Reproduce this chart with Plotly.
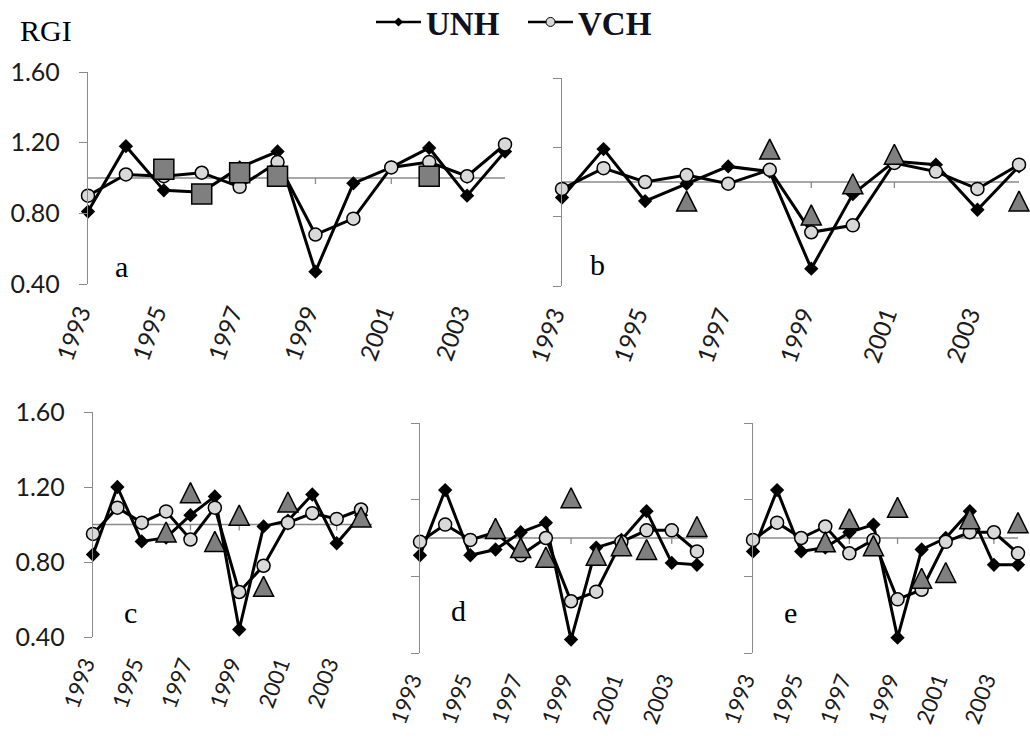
import plotly.graph_objects as go

# ---- data -------------------------------------------------------------
YEARS = list(range(1993, 2005))
TICK_YEARS = [1993, 1995, 1997, 1999, 2001, 2003]
TICK_TEXT = [str(y) for y in TICK_YEARS]
Y_TICKS = [0.40, 0.80, 1.20, 1.60]
Y_TICK_TEXT = ["0.40", "0.80", "1.20", "1.60"]
BASELINE = 1.0

UNH_A = [0.81, 1.18, 0.93, 0.92, 1.06, 1.15, 0.47, 0.97, 1.06, 1.17, 0.90, 1.15]
VCH_A = [0.90, 1.02, 1.01, 1.03, 0.95, 1.09, 0.68, 0.77, 1.06, 1.09, 1.01, 1.19]
SQR_A = [None, None, 1.05, 0.91, 1.03, 1.01, None, None, None, 1.01, None, None]

UNH_B = [0.91, 1.19, 0.89, 0.99, 1.09, 1.06, 0.50, 0.93, 1.12, 1.10, 0.84, 1.09]
VCH_B = [0.96, 1.08, 1.00, 1.04, 0.99, 1.07, 0.71, 0.75, 1.11, 1.06, 0.96, 1.10]
TRI_B = [None, None, None, 0.89, None, 1.19, 0.81, 0.99, 1.16, None, None, 0.89]

UNH_C = [0.84, 1.20, 0.91, 0.93, 1.05, 1.15, 0.44, 0.99, 1.02, 1.16, 0.90, 1.05]
VCH_C = [0.95, 1.09, 1.01, 1.07, 0.92, 1.09, 0.64, 0.78, 1.01, 1.06, 1.03, 1.08]
TRI_C = [None, None, None, 0.96, 1.17, 0.91, 1.05, 0.67, 1.12, None, None, 1.04]

UNH_D = [0.91, 1.25, 0.91, 0.94, 1.03, 1.08, 0.47, 0.95, 0.99, 1.14, 0.87, 0.86]
VCH_D = [0.98, 1.07, 0.99, 1.03, 0.91, 1.00, 0.67, 0.72, 0.98, 1.04, 1.04, 0.93]
TRI_D = [None, None, None, 1.05, 0.95, 0.90, 1.21, 0.91, 0.96, 0.94, None, 1.06]

UNH_E = [0.93, 1.25, 0.93, 0.95, 1.03, 1.07, 0.48, 0.94, 1.00, 1.14, 0.86, 0.86]
VCH_E = [0.99, 1.08, 1.00, 1.06, 0.92, 0.99, 0.68, 0.73, 0.98, 1.03, 1.03, 0.92]
TRI_E = [None, None, None, 0.98, 1.10, 0.96, 1.16, 0.79, 0.82, 1.10, None, 1.08]

# ---- layout helpers ---------------------------------------------------
W, H = 1030, 741
AXIS_GREY = "#8a8a8a"
TEXT_COL = "#1a1a1a"
TICK_FONT = "Lato"
SERIF = "Liberation Serif"


def px_x(a, b):
    return [a / W, b / W]


def px_y(top, bottom):
    return [1 - bottom / H, 1 - top / H]


# panel name, x pixels, y pixels, x end, data, extra symbol, x label size, show y labels, label pos
PANELS = [
    ("a", (88, 505), (72, 284), 2004.0, UNH_A, VCH_A, SQR_A, "square", 24, True, (121, 266)),
    ("b", (562, 1019), (78, 286), 2004.0, UNH_B, VCH_B, TRI_B, "tri", 24, False, (597, 264)),
    ("c", (93, 372), (412, 637), 2004.45, UNH_C, VCH_C, TRI_C, "tri", 22, True, (130, 612)),
    ("d", (420, 707), (423, 653), 2004.4, UNH_D, VCH_D, TRI_D, "tri", 22, False, (458, 610)),
    ("e", (753, 1018), (423, 653), 2004.0, UNH_E, VCH_E, TRI_E, "tri", 22, False, (790, 612)),
]

fig = go.Figure()
layout = dict(
    width=W, height=H,
    margin=dict(l=0, r=0, t=0, b=0, autoexpand=False),
    paper_bgcolor="white", plot_bgcolor="white",
    showlegend=True,
)
shapes = []
annotations = []

for i, (name, xp, yp, xend, unh, vch, extra, kind, fsize, ylab, lab) in enumerate(PANELS):
    n = "" if i == 0 else str(i + 1)
    xa, ya = "x" + n, "y" + n

    fig.add_trace(go.Scatter(
        x=YEARS, y=unh, xaxis=xa, yaxis=ya, mode="lines+markers",
        line=dict(color="black", width=3),
        marker=dict(symbol="diamond", size=11, color="black"),
        showlegend=False, cliponaxis=False, hoverinfo="skip"))
    fig.add_trace(go.Scatter(
        x=YEARS, y=vch, xaxis=xa, yaxis=ya, mode="lines+markers",
        line=dict(color="black", width=3),
        marker=dict(symbol="circle", size=13, color="#d9d9d9",
                    line=dict(color="black", width=1.5)),
        showlegend=False, cliponaxis=False, hoverinfo="skip"))
    if kind == "square":
        mk = dict(symbol="square", size=20, color="#7f7f7f",
                  line=dict(color="black", width=1.5))
    else:
        # upright triangle, as tall as it is wide, centred on the value
        mk = dict(symbol="arrow-down", angle=180, standoff=10, size=20,
                  color="#7f7f7f", line=dict(color="black", width=1.5))
    fig.add_trace(go.Scatter(
        x=YEARS, y=extra, xaxis=xa, yaxis=ya, mode="markers", marker=mk,
        showlegend=False, cliponaxis=False, hoverinfo="skip"))

    layout["xaxis" + n] = dict(
        domain=px_x(*xp), anchor=ya, range=[YEARS[0], xend], automargin=False,
        showline=False, showgrid=False, zeroline=False, ticks="",
        tickmode="array", tickvals=TICK_YEARS, ticktext=TICK_TEXT,
        tickangle=-70, ticklabelstandoff=9, ticklabelshift=-8,
        tickfont=dict(family=TICK_FONT, size=fsize, color=TEXT_COL))
    layout["yaxis" + n] = dict(
        domain=px_y(*yp), anchor=xa, range=[0.4, 1.6], automargin=False,
        showline=True, linecolor=AXIS_GREY, linewidth=1.3,
        showgrid=False, zeroline=False,
        ticks="outside", ticklen=8, tickcolor=AXIS_GREY, tickwidth=1.3,
        tickmode="array", tickvals=Y_TICKS, ticktext=Y_TICK_TEXT,
        showticklabels=ylab, ticklabelstandoff=14,
        tickfont=dict(family=TICK_FONT, size=25, color=TEXT_COL))

    # horizontal reference line at RGI = 1 with its tick marks
    shapes.append(dict(type="line", xref=xa, yref=ya, x0=YEARS[0], x1=xend,
                       y0=BASELINE, y1=BASELINE, layer="below",
                       line=dict(color=AXIS_GREY, width=1.5)))
    for ty in TICK_YEARS[1:]:
        shapes.append(dict(type="line", xref=xa, yref=ya, ysizemode="pixel",
                           yanchor=BASELINE, x0=ty, x1=ty, y0=0, y1=-6,
                           layer="below", line=dict(color=AXIS_GREY, width=1.3)))

    annotations.append(dict(text=name, x=lab[0] / W, y=1 - lab[1] / H,
                            xref="paper", yref="paper", showarrow=False,
                            xanchor="center", yanchor="middle",
                            font=dict(family=SERIF, size=30, color="black")))

# legend entries
fig.add_trace(go.Scatter(
    x=[None], y=[None], mode="lines+markers", name="UNH",
    line=dict(color="black", width=2.5),
    marker=dict(symbol="diamond", size=7, color="black")))
fig.add_trace(go.Scatter(
    x=[None], y=[None], mode="lines+markers", name="VCH",
    line=dict(color="black", width=2.5),
    marker=dict(symbol="circle", size=9, color="#d9d9d9",
                line=dict(color="black", width=1))))

annotations.append(dict(text="RGI", x=18 / W, y=1 - 31 / H, xref="paper", yref="paper",
                        showarrow=False, xanchor="left", yanchor="middle",
                        font=dict(family=SERIF, size=30, color="black")))

layout["shapes"] = shapes
layout["annotations"] = annotations
layout["legend"] = dict(orientation="h", x=371 / W, y=1 - 22 / H,
                        xanchor="left", yanchor="middle",
                        bgcolor="rgba(0,0,0,0)", itemwidth=45,
                        entrywidth=92, entrywidthmode="pixels",
                        font=dict(family=SERIF, size=33, color="#101020", weight="bold"))
fig.update_layout(**layout)

fig.write_html("out.html")
